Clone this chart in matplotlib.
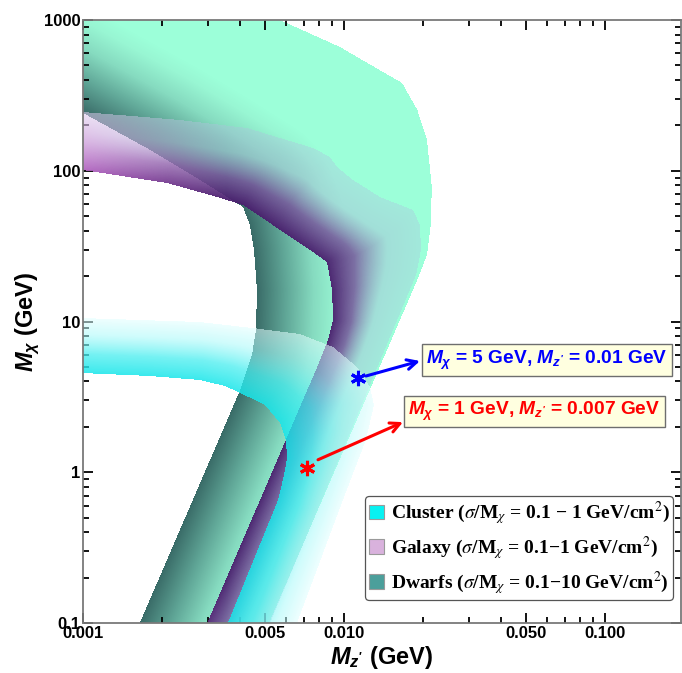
import numpy as np
import matplotlib
matplotlib.use("Agg")
import matplotlib.pyplot as plt
from matplotlib.path import Path
from matplotlib.colors import LinearSegmentedColormap, to_rgba
from matplotlib.patches import Patch
from matplotlib.font_manager import FontProperties
from matplotlib.ticker import FixedLocator, FixedFormatter, NullFormatter

plt.rcParams['mathtext.fontset'] = 'custom'
plt.rcParams['mathtext.rm'] = 'Liberation Sans:bold'
plt.rcParams['mathtext.it'] = 'Liberation Sans:italic:bold'
plt.rcParams['mathtext.bf'] = 'Liberation Sans:bold'

# ---------------- data (Mz' in GeV, Mchi in GeV) ----------------
# Dwarfs band (sigma/M = 0.1 - 10)
dw_out_x = [0.00068, 0.00235, 0.00569, 0.00965, 0.0141, 0.0167, 0.0191, 0.0208, 0.0217, 0.0215, 0.0208, 0.0191, 0.00516, 0.00448]
dw_out_y = [6250, 1990, 1000, 662, 452, 382, 253, 160, 78.0, 43.7, 27.6, 18.9, 0.1, 0.057]
dw_in_x = [0.000816, 0.001, 0.00181, 0.00281, 0.00410, 0.00436, 0.00452, 0.00464, 0.00460, 0.00444, 0.00418, 0.00400, 0.00165, 0.00144]
dw_in_y = [294.6, 241.6, 137.3, 86.8, 57.5, 43.7, 29.8, 16.2, 8.78, 6.00, 4.42, 3.51, 0.1, 0.057]

# Galaxy band (sigma/M = 0.1 - 1)
ga_out_x = [0.000816, 0.001, 0.00235, 0.00425, 0.00761, 0.00884, 0.00940, 0.01083, 0.01374, 0.01838, 0.01955, 0.01972, 0.01888, 0.00521, 0.00452]
ga_out_y = [260.8, 245.4, 217.1, 192.1, 141.6, 123.4, 105.9, 86.8, 67.0, 54.9, 43.7, 29.8, 20.3, 0.1, 0.057]
ga_in_x = [0.000816, 0.001, 0.00210, 0.00326, 0.00410, 0.00569, 0.00741, 0.00861, 0.00900, 0.00908, 0.00869, 0.00795, 0.00299, 0.00259]
ga_in_y = [107.5, 101.2, 82.9, 67.0, 59.3, 40.5, 29.8, 24.8, 16.2, 10.23, 7.54, 5.14, 0.1, 0.057]

# Cluster band (sigma/M = 0.1 - 1)
cl_out_x = [0.000816, 0.001, 0.00281, 0.00448, 0.00678, 0.00908, 0.01122, 0.01258, 0.01303, 0.01214, 0.00991, 0.00661, 0.00579]
cl_out_y = [10.54, 10.54, 9.92, 9.05, 8.26, 6.77, 4.99, 3.68, 2.79, 1.64, 0.655, 0.1, 0.057]
cl_in_x = [0.000816, 0.001, 0.00181, 0.00281, 0.00350, 0.00400, 0.00498, 0.00569, 0.00599, 0.00605, 0.00589, 0.00559, 0.00359, 0.00315]
cl_in_y = [4.62, 4.55, 4.35, 4.09, 3.73, 3.36, 2.79, 2.12, 1.64, 1.24, 0.959, 0.655, 0.1, 0.057]

# Benchmark points
pt_x = [0.0113, 0.0072]
pt_y = [4.22, 1.06]
pt_colors = ['#0000FF', '#FF0000']
pt_labels = [r"$M_\chi$ = 5 GeV, $M_{z'}$ = 0.01 GeV", r"$M_\chi$ = 1 GeV, $M_{z'}$ = 0.007 GeV"]
arrow_start_x = [0.01214, 0.00795]
arrow_start_y = [4.35, 1.21]
arrow_end_x = [0.01955, 0.01683]
arrow_end_y = [5.47, 2.15]
label_x = [0.0600, 0.0537]
label_y = [5.55, 2.53]

legend_labels = [r"Cluster ($\sigma$/M$_\chi$ = 0.1 − 1 GeV/cm$^2$)",
                 r"Galaxy ($\sigma$/M$_\chi$ = 0.1−1 GeV/cm$^2$)",
                 r"Dwarfs ($\sigma$/M$_\chi$ = 0.1−10 GeV/cm$^2$)"]
legend_colors = ['#08F2F2', '#D9B2DD', '#4B9F9B']

x_major = [0.001, 0.005, 0.01, 0.05, 0.1]
x_major_labels = ['0.001', '0.005', '0.010', '0.050', '0.100']
y_major = [0.1, 1, 10, 100, 1000]
y_major_labels = ['0.1', '1', '10', '100', '1000']

# ---------------- figure ----------------
W, H = 682, 673
fig = plt.figure(figsize=(W / 100, H / 100), dpi=100)
ax = fig.add_axes([83 / W, 50 / H, 598 / W, 603 / H])
ax.set_xscale('log')
ax.set_yscale('log')
ax.set_xlim(0.001, 10 ** (-3 + 598 / 261))
ax.set_ylim(0.1, 1000)
ax.set_autoscale_on(False)

bb = ax.get_window_extent()
nx, ny = int(round(bb.width)), int(round(bb.height))
gx = bb.x0 + (np.arange(nx) + 0.5) * bb.width / nx
gy = bb.y0 + (np.arange(ny) + 0.5) * bb.height / ny
GX, GY = np.meshgrid(gx, gy)
P = np.column_stack([GX.ravel(), GY.ravel()])
logx_grid = np.log10(ax.transData.inverted().transform(P)[:, 0])


def poly_dist(P, poly):
    d = np.full(P.shape[0], np.inf)
    for A, B in zip(poly[:-1], poly[1:]):
        AB = B - A
        L2 = AB @ AB
        t = np.clip(((P - A) @ AB) / L2, 0, 1)
        Q = A + t[:, None] * AB
        d = np.minimum(d, np.hypot(P[:, 0] - Q[:, 0], P[:, 1] - Q[:, 1]))
    return d


def cmap_from(stops):
    return LinearSegmentedColormap.from_list('c', [(s, to_rgba(c, a)) for s, c, a in stops])


def draw_band(ox, oy, ix, iy, colorfn, z, wmax=None):
    out = ax.transData.transform(np.column_stack([ox, oy]))
    inn = ax.transData.transform(np.column_stack([ix, iy]))
    d_in = poly_dist(P, inn)
    d_out = poly_dist(P, out)
    width = d_in + d_out
    if wmax is not None:
        width = np.minimum(width, wmax)
    t = np.clip(d_in / np.maximum(width, 1e-9), 0, 1)
    rgba = colorfn(t)
    inside = Path(np.vstack([out, inn[::-1]])).contains_points(P)
    rgba[:, 3] *= inside
    ax.imshow(rgba.reshape(ny, nx, 4), extent=[0, 1, 0, 1], transform=ax.transAxes,
              origin='lower', interpolation='bilinear', aspect='auto', zorder=z)


dw_cmap = cmap_from([(0, '#3A6C68', 1), (0.3, '#5FA596', 1), (0.6, '#86DBC0', 1),
                     (0.85, '#98F6D3', 1), (1, '#9CFFD9', 1)])
ga_cmap_r = cmap_from([(0, '#4A1F6E', 0.95), (0.3, '#76559A', 0.85), (0.65, '#A8C0D8', 0.5),
                       (1, '#B0C0E0', 0.35)])
ga_cmap_l = cmap_from([(0, '#B466C2', 0.95), (0.5, '#CFA0DC', 0.75), (1, '#E0CCEE', 0.55)])
cl_cmap = cmap_from([(0, '#18E6EA', 0.85), (0.35, '#48EEF0', 0.75), (0.7, '#A8FAFA', 0.55),
                     (1, '#E2FFFF', 0.55)])


def galaxy_color(t):
    s = np.clip((logx_grid + 3) / 0.55, 0, 1)[:, None]
    return ga_cmap_l(t) * (1 - s) + ga_cmap_r(t) * s


draw_band(dw_out_x, dw_out_y, dw_in_x, dw_in_y, dw_cmap, 1, wmax=95)
draw_band(ga_out_x, ga_out_y, ga_in_x, ga_in_y, galaxy_color, 2)
draw_band(cl_out_x, cl_out_y, cl_in_x, cl_in_y, cl_cmap, 3)

ax.set_xlim(0.001, 10 ** (-3 + 598 / 261))
ax.set_ylim(0.1, 1000)

# ---------------- annotations ----------------
ann_fp = FontProperties(family='Liberation Sans', weight='bold', size=13.8, math_fontfamily='custom')
for i in range(2):
    ax.plot(pt_x[i], pt_y[i], marker=(6, 2, 0), ms=11, mew=2.2, color=pt_colors[i], zorder=6)
    ax.annotate('', xy=(arrow_end_x[i], arrow_end_y[i]), xytext=(arrow_start_x[i], arrow_start_y[i]),
                arrowprops=dict(arrowstyle='->,head_length=0.7,head_width=0.35', color=pt_colors[i],
                                lw=2.2, shrinkA=0, shrinkB=0), zorder=6)
    ax.text(label_x[i], label_y[i], pt_labels[i], color=pt_colors[i], fontproperties=ann_fp,
            ha='center', va='center', zorder=7,
            bbox=dict(boxstyle='square,pad=0.22', fc='#FFFFE0', ec='#6E6E6E', lw=1.0))

# ---------------- legend ----------------
handles = [Patch(fc=c, ec='#9A9A9A', lw=0.8) for c in legend_colors]
leg_fp = FontProperties(family='Liberation Serif', weight='bold', size=14, math_fontfamily='stix')
leg = ax.legend(handles, legend_labels, prop=leg_fp, loc='lower right', bbox_to_anchor=(0.987, 0.038),
                frameon=True, fancybox=True, framealpha=1, edgecolor='#555555',
                handlelength=0.8, handleheight=0.8, handletextpad=0.35, labelspacing=0.34,
                borderpad=0.18, borderaxespad=0)
leg.get_frame().set_linewidth(0.9)
leg.set_zorder(8)

# ---------------- axes styling ----------------
tick_fp = FontProperties(family='Liberation Sans', weight='bold', size=12)
x_minor = [m * 10.0 ** e for e in (-3, -2, -1) for m in (2, 3, 4, 6, 7, 8, 9)
           if m * 10.0 ** e < 0.195]
y_minor = [m * 10.0 ** e for e in (-1, 0, 1, 2) for m in range(2, 10)]
ax.xaxis.set_major_locator(FixedLocator(x_major))
ax.xaxis.set_major_formatter(FixedFormatter(x_major_labels))
ax.xaxis.set_minor_locator(FixedLocator(x_minor))
ax.xaxis.set_minor_formatter(NullFormatter())
ax.yaxis.set_major_locator(FixedLocator(y_major))
ax.yaxis.set_major_formatter(FixedFormatter(y_major_labels))
ax.yaxis.set_minor_locator(FixedLocator(y_minor))
ax.yaxis.set_minor_formatter(NullFormatter())
ax.tick_params(which='both', direction='in', top=True, right=True, color='black', width=1.3)
ax.tick_params(which='major', length=7, pad=2)
ax.tick_params(which='minor', length=4)
for lab in ax.get_xticklabels() + ax.get_yticklabels():
    lab.set_fontproperties(tick_fp)
for sp in ax.spines.values():
    sp.set_color('#7A7A7A')
    sp.set_linewidth(1.3)
    sp.set_zorder(9)

lab_fp = FontProperties(family='Liberation Sans', weight='bold', size=17, math_fontfamily='custom')
ax.set_xlabel(r"$M_{z'}$ (GeV)", fontproperties=lab_fp)
ax.set_ylabel(r"$M_\chi$ (GeV)", fontproperties=lab_fp)
ax.xaxis.set_label_coords(0.5, -0.034)
ax.yaxis.set_label_coords(-0.068, 0.5)

fig.savefig('out.png', dpi=100)
